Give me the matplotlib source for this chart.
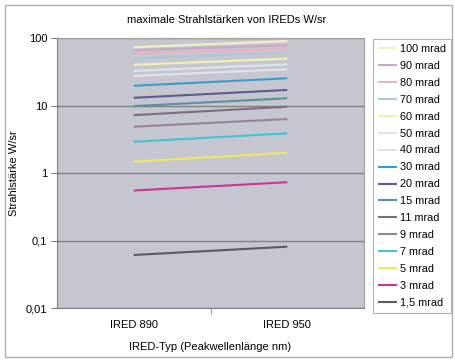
import matplotlib
matplotlib.use("Agg")
import matplotlib.pyplot as plt
from matplotlib.ticker import FixedLocator, FixedFormatter

plt.rcParams['font.family'] = ['Liberation Sans', 'DejaVu Sans']

categories = ["IRED 890", "IRED 950"]
series_names = ["100 mrad", "90 mrad", "80 mrad", "70 mrad", "60 mrad", "50 mrad",
                "40 mrad", "30 mrad", "20 mrad", "15 mrad", "11 mrad", "9 mrad",
                "7 mrad", "5 mrad", "3 mrad", "1,5 mrad"]
v100 = [73, 90]
v90 = [66, 78]
v80 = [60, 68]
v70 = [50, 61]
v60 = [40, 49.5]
v50 = [32.5, 40.7]
v40 = [27.4, 34.4]
v30 = [19.6, 25.3]
v20 = [13, 17]
v15 = [9.8, 12.8]
v11 = [7.2, 9.6]
v9 = [4.85, 6.3]
v7 = [2.9, 3.87]
v5 = [1.47, 2.0]
v3 = [0.55, 0.73]
v1_5 = [0.061, 0.081]
series_values = [v100, v90, v80, v70, v60, v50, v40, v30, v20, v15, v11, v9, v7, v5, v3, v1_5]
colors = ["#F4F0C4", "#C8A8C4", "#EAB0C8", "#A8C8D8", "#F2F2B0", "#D8E6EE", "#E2E2E8",
          "#3A9CC8", "#5C5C8C", "#5E8EA4", "#7A6E7C", "#948494", "#40C4D4", "#EEE860",
          "#C83890", "#5A5A66"]
ytick_vals = [0.01, 0.1, 1, 10, 100]
ytick_labels = ["0,01", "0,1", "1", "10", "100"]

fig = plt.figure(figsize=(4.55, 3.62), dpi=100)
fig.patch.set_facecolor("white")
# outer frame
fig.add_artist(plt.Rectangle((5/455, 5/362), 447/455, 352/362, transform=fig.transFigure,
                             fill=False, edgecolor="#B0B0B0", linewidth=1))

ax = fig.add_axes([57/455, 1-308/362, (364-57)/455, (308-38)/362])
ax.set_facecolor("#C6C6D0")
x = list(range(len(categories)))
for name, vals, c in zip(series_names, series_values, colors):
    ax.plot(x, vals, color=c, linewidth=1.5, label=name, solid_capstyle="butt")

ax.set_yscale("log")
ax.set_ylim(0.01, 100)
ax.set_xlim(-0.5, 1.5)
ax.yaxis.set_major_locator(FixedLocator(ytick_vals))
ax.yaxis.set_major_formatter(FixedFormatter(ytick_labels))
ax.yaxis.set_minor_locator(FixedLocator([]))
ax.set_xticks(x)
ax.set_xticklabels(categories)
ax.set_xticks([0.5], minor=True)
ax.tick_params(axis="x", which="major", length=0, pad=9, labelsize=8)
ax.tick_params(axis="x", which="minor", length=4, color="#808080", direction="out")
ax.tick_params(axis="y", which="major", length=4, color="#808080", labelsize=8, pad=3)
ax.grid(axis="y", which="major", color="#808080", linewidth=1)
for s in ["top", "right"]:
    ax.spines[s].set_color("#A0A0A0")
for s in ["left", "bottom"]:
    ax.spines[s].set_color("#808080")

fig.text(227/455, 1-20/362, "maximale Strahlstärken von IREDs W/sr", fontsize=8,
         ha="center", va="center")
ax.set_ylabel("Strahlstärke W/sr", fontsize=8)
ax.yaxis.set_label_coords((19-57)/307, 0.5)
ax.set_xlabel("IRED-Typ (Peakwellenlänge nm)", fontsize=8, labelpad=8)

leg = fig.legend(loc="upper left", bbox_to_anchor=(373/455, 1-39/362), borderaxespad=0,
                 fontsize=7.8, frameon=True, fancybox=False, edgecolor="#A0A0A0",
                 handlelength=1.8, handletextpad=0.25, labelspacing=0.64,
                 borderpad=0.45)
leg.get_frame().set_linewidth(0.8)

fig.savefig("out.png", dpi=100)
